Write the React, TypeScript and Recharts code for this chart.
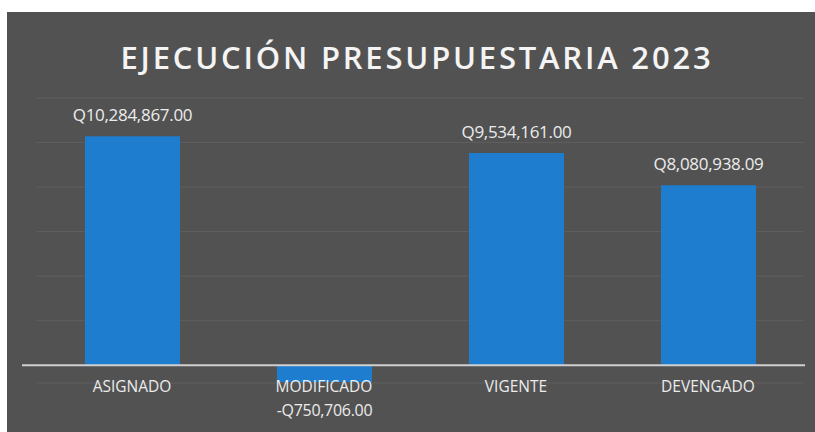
import React from "react";
import { BarChart, Bar, XAxis, YAxis, CartesianGrid, ReferenceLine, LabelList } from "recharts";

const categories = ["ASIGNADO", "MODIFICADO", "VIGENTE", "DEVENGADO"];
const values = [10284867.0, -750706.0, 9534161.0, 8080938.09];
const valueLabels = ["Q10,284,867.00", "-Q750,706.00", "Q9,534,161.00", "Q8,080,938.09"];
const gridTicks = [0, 2000000, 4000000, 6000000, 8000000, 10000000, 12000000];
const title = "EJECUCIÓN PRESUPUESTARIA 2023";

const data = categories.map((c, i) => ({ name: c, value: values[i], label: valueLabels[i] }));

const FONT = "'Open Sans', 'DejaVu Sans', sans-serif";

const ValueLabel = (props: any) => {
  const { x, y, width, height, index } = props;
  const v = values[index];
  const top = Math.min(y, y + height);
  const bottom = Math.max(y, y + height);
  const cx = x + width / 2;
  const negative = v < 0;
  const ty = negative ? bottom + 34 : top - 15;
  return (
    <text x={cx} y={ty} textAnchor="middle" fill="#ececec" fontSize={negative ? 16 : 17} fontFamily={FONT} letterSpacing={-0.3}>
      {valueLabels[index]}
    </text>
  );
};

const CatTick = (props: any) => {
  const { x, y, payload } = props;
  return (
    <text x={x} y={y + 1} textAnchor="middle" fill="#ececec" fontSize={15.5} fontFamily={FONT}>
      {payload.value}
    </text>
  );
};

const AxisLine = (props: any) => {
  const { x1, x2, y1, y2 } = props;
  return <line x1={x1 - 14} x2={x2 + 1} y1={y1} y2={y2} stroke="#cfcfcf" strokeWidth={2} />;
};

export default function App() {
  return (
    <div style={{ position: "absolute", left: 0, top: 0, width: 815, height: 432, background: "#ffffff", overflow: "hidden" }}>
      <div style={{ position: "absolute", left: 7, top: 12, width: 808, height: 420, background: "#525252" }}>
        <div
          style={{
            position: "absolute",
            left: 0,
            top: 25,
            width: 820,
            textAlign: "center",
            color: "#f4f4f4",
            fontFamily: FONT,
            fontWeight: 600,
            fontSize: 31,
            letterSpacing: 2.8,
            lineHeight: "40px",
          }}
        >
          {title}
        </div>
        <div style={{ position: "absolute", left: 0, top: 0 }}>
          <BarChart width={805} height={420} data={data} margin={{ top: 86, right: 8, left: 29, bottom: 19 }} barSize={95}>
            <CartesianGrid vertical={false} stroke="rgba(255,255,255,0.08)" />
            <YAxis hide domain={[-800000, 12000000]} ticks={gridTicks} type="number" />
            <XAxis dataKey="name" axisLine={false} tickLine={false} height={30} tick={<CatTick />} interval={0} />
            <Bar dataKey="value" fill="#1f7dd0" isAnimationActive={false}>
              <LabelList dataKey="label" content={<ValueLabel />} />
            </Bar>
            <ReferenceLine y={0} ifOverflow="visible" shape={<AxisLine />} />
          </BarChart>
        </div>
      </div>
    </div>
  );
}
